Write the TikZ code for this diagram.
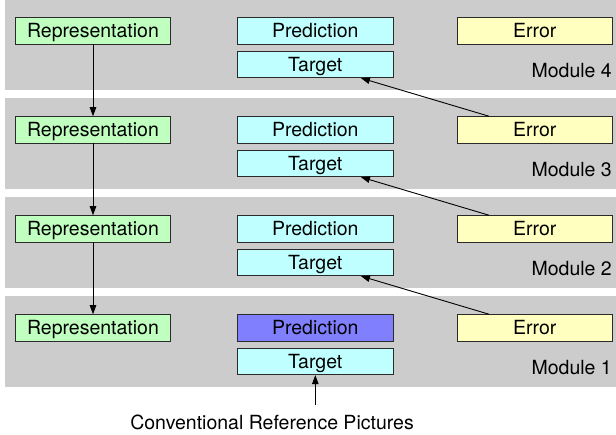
\documentclass[tikz,border=0pt]{standalone}
\usepackage{fontspec}
\setmainfont{TeX Gyre Heros}
\usetikzlibrary{arrows.meta}
\definecolor{bandgray}{HTML}{CCCCCC}
\definecolor{repgreen}{HTML}{C0FFC0}
\definecolor{predcyan}{HTML}{C0FFFF}
\definecolor{predblue}{HTML}{8080FF}
\definecolor{erryellow}{HTML}{FFFFC0}
\definecolor{boxline}{HTML}{2A2A2A}
\begin{document}
\begin{tikzpicture}[x=1pt,y=-1pt,
  labelfont/.style={font=\fontsize{19.5}{22}\selectfont},
  box/.style={labelfont, draw=boxline, line width=0.8pt, minimum width=155.5pt,
    minimum height=26.4pt, inner sep=0pt, text height=14pt, text depth=0pt},
  modlabel/.style={labelfont, inner sep=0pt, anchor=base east},
  arr/.style={line width=0.9pt, -{Triangle[length=9pt,width=6.5pt]}}]
\useasboundingbox (0,0) rectangle (616,435);

% one grey band per module, each with its four boxes and label
\foreach \k/\T/\pc in {4/-1/predcyan, 3/98/predcyan, 2/197/predcyan, 1/296/predblue}{
  \pgfmathsetmacro{\top}{max(\T,0)}
  \fill[bandgray] (5,\top) rectangle (616,\T+91.5);
  \node[box, fill=repgreen]  (rep\k)  at (93,\T+31.85)    {Representation};
  \node[box, fill=\pc]       (pred\k) at (315.3,\T+31.85) {Prediction};
  \node[box, fill=erryellow] (err\k)  at (534.7,\T+31.85) {Error};
  \node[box, fill=predcyan]  (tgt\k)  at (315.3,\T+65.5)  {Target};
  \node[modlabel] (mod\k) at (612,\T+79) {Module \k};
}

% representations feed down the stack
\draw[arr] (rep4.south) -- (rep3.north);
\draw[arr] (rep3.south) -- (rep2.north);
\draw[arr] (rep2.south) -- (rep1.north);

% errors become the targets of the module above
\draw[arr] (err3) -- (tgt4);
\draw[arr] (err2) -- (tgt3);
\draw[arr] (err1) -- (tgt2);

% external input
\node[labelfont, inner sep=0pt, text height=14pt, text depth=0pt] (crp) at (272,422.5)
  {Conventional Reference Pictures};
\path (crp.north -| tgt1.south) ++(0,-10.5) coordinate (src);
\draw[arr] (src) -- (tgt1.south);
\end{tikzpicture}
\end{document}
